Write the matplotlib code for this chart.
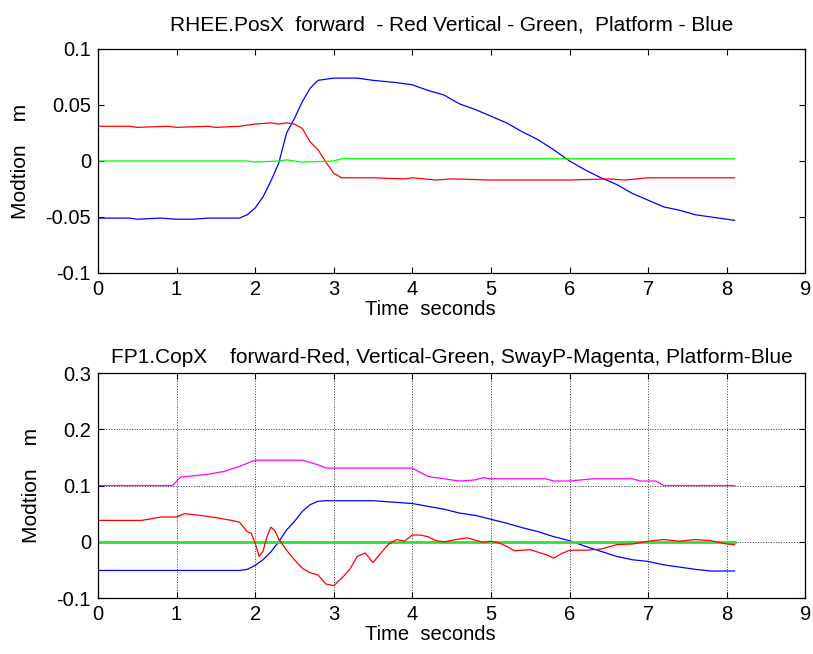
import matplotlib
matplotlib.use("Agg")
import matplotlib.pyplot as plt

plt.rcParams['font.family'] = ['Liberation Sans', 'DejaVu Sans']

# ---------------- top panel data ----------------
t1_blue = [0, 0.4, 0.5, 0.8, 1.0, 1.2, 1.4, 1.6, 1.8, 1.9, 2.0, 2.1, 2.2, 2.3, 2.4, 2.5, 2.6, 2.7, 2.8, 2.9, 3.0,
           3.3, 3.5, 3.8, 4.0, 4.2, 4.4, 4.6, 4.8, 5.0, 5.2, 5.4, 5.6, 5.8, 6.0, 6.2, 6.4, 6.6, 6.8, 7.0,
           7.2, 7.4, 7.6, 7.8, 8.0, 8.1]
y1_blue = [-0.051, -0.051, -0.052, -0.051, -0.052, -0.052, -0.051, -0.051, -0.051, -0.048, -0.042, -0.032, -0.018,
           -0.002, 0.025, 0.038, 0.053, 0.065, 0.072, 0.073, 0.074,
           0.074, 0.072, 0.070, 0.068, 0.063, 0.059, 0.051, 0.046, 0.040, 0.034, 0.026, 0.019, 0.010, 0.000,
           -0.008, -0.015, -0.021, -0.029, -0.035, -0.041, -0.044, -0.048, -0.050, -0.052, -0.053]

t1_red = [0, 0.4, 0.5, 0.9, 1.0, 1.4, 1.5, 1.8, 2.0, 2.2, 2.3, 2.4, 2.5, 2.6, 2.7, 2.8, 2.9, 3.0, 3.1, 3.5,
          3.9, 4.0, 4.3, 4.5, 5.0, 5.5, 6.0, 6.5, 6.7, 7.0, 7.5, 8.1]
y1_red = [0.031, 0.031, 0.030, 0.031, 0.030, 0.031, 0.030, 0.031, 0.033, 0.034, 0.033, 0.034, 0.033, 0.029, 0.017,
          0.010, -0.001, -0.011, -0.015, -0.015, -0.016, -0.015, -0.017, -0.016, -0.017, -0.017, -0.017, -0.016,
          -0.017, -0.015, -0.015, -0.015]

t1_green = [0, 1.9, 2.0, 2.3, 2.4, 2.6, 3.0, 3.1, 8.1]
y1_green = [0, 0, -0.001, 0.0, 0.001, -0.001, 0.0, 0.002, 0.002]

# ---------------- bottom panel data ----------------
t2_mag = [0, 0.95, 1.05, 1.2, 1.4, 1.6, 1.8, 2.0, 2.6, 2.8, 2.9, 3.0, 4.0, 4.2, 4.4, 4.6, 4.8, 4.9, 5.0, 5.7,
          5.8, 6.0, 6.3, 6.8, 6.9, 7.1, 7.2, 8.1]
y2_mag = [0.100, 0.100, 0.115, 0.117, 0.120, 0.125, 0.134, 0.145, 0.145, 0.137, 0.131, 0.131, 0.131, 0.116,
          0.112, 0.108, 0.110, 0.114, 0.112, 0.112, 0.108, 0.108, 0.112, 0.112, 0.108, 0.108, 0.100, 0.100]

t2_blue = [0, 1.8, 1.9, 2.0, 2.1, 2.2, 2.3, 2.4, 2.5, 2.6, 2.7, 2.8, 2.9, 3.5, 3.8, 4.0, 4.2, 4.4, 4.6, 4.8,
           5.0, 5.2, 5.4, 5.6, 5.8, 6.0, 6.2, 6.4, 6.6, 6.8, 7.0, 7.2, 7.4, 7.6, 7.8, 8.1]
y2_blue = [-0.051, -0.051, -0.049, -0.042, -0.032, -0.018, 0.000, 0.021, 0.036, 0.054, 0.066, 0.072, 0.073,
           0.073, 0.070, 0.068, 0.063, 0.058, 0.051, 0.047, 0.040, 0.033, 0.025, 0.018, 0.009, 0.002, -0.008,
           -0.017, -0.026, -0.032, -0.035, -0.041, -0.045, -0.049, -0.052, -0.052]

t2_red = [0, 0.55, 0.6, 0.8, 1.0, 1.1, 1.3, 1.5, 1.7, 1.8, 1.9, 1.95, 2.0, 2.05, 2.1, 2.15, 2.2, 2.25, 2.3,
          2.4, 2.5, 2.6, 2.7, 2.8, 2.9, 3.0, 3.1, 3.2, 3.3, 3.4, 3.5, 3.6, 3.7, 3.8, 3.9, 4.0, 4.1, 4.2, 4.3,
          4.4, 4.6, 4.7, 4.9, 5.0, 5.1, 5.2, 5.3, 5.5, 5.7, 5.8, 5.9, 6.0, 6.2, 6.4, 6.6, 6.8, 7.0, 7.2, 7.4,
          7.6, 7.8, 8.0, 8.1]
y2_red = [0.038, 0.038, 0.039, 0.044, 0.044, 0.050, 0.047, 0.043, 0.038, 0.035, 0.018, 0.015, -0.002, -0.026,
          -0.017, 0.009, 0.026, 0.020, 0.005, -0.015, -0.032, -0.047, -0.055, -0.059, -0.075, -0.078, -0.065,
          -0.050, -0.026, -0.020, -0.037, -0.020, -0.004, 0.004, 0.001, 0.012, 0.012, 0.009, 0.002, 0.000,
          0.005, 0.007, -0.001, 0.001, -0.002, -0.008, -0.016, -0.014, -0.023, -0.029, -0.021, -0.015, -0.015,
          -0.013, -0.005, -0.004, 0.001, 0.004, 0.001, 0.004, 0.002, -0.004, -0.005]

t2_green = [0, 8.1]
y2_green = [0, 0]

xticks = [0, 1, 2, 3, 4, 5, 6, 7, 8, 9]
yticks1 = [-0.1, -0.05, 0, 0.05, 0.1]
ylabels1 = ['-0.1', '-0.05', '0', '0.05', '0.1']
yticks2 = [-0.1, 0, 0.1, 0.2, 0.3]
ylabels2 = ['-0.1', '0', '0.1', '0.2', '0.3']

title1 = 'RHEE.PosX  forward  - Red Vertical - Green,  Platform - Blue'
title2 = 'FP1.CopX    forward-Red, Vertical-Green, SwayP-Magenta, Platform-Blue'
xlabel = 'Time  seconds'
ylabel = 'Modtion    m'

fig = plt.figure(figsize=(8.13, 6.54), dpi=100)
ax1 = fig.add_axes([0.1205, 0.5826, 0.8700, 0.3425])
ax2 = fig.add_axes([0.1205, 0.0856, 0.8700, 0.3440])

lw = 0.9
ax1.plot(t1_blue, y1_blue, color='#0000ff', lw=lw)
ax1.plot(t1_red, y1_red, color='#ff0000', lw=lw)
ax1.plot(t1_green, y1_green, color='#00ff00', lw=lw)

ax2.plot(t2_mag, y2_mag, color='#ff00ff', lw=lw)
ax2.plot(t2_blue, y2_blue, color='#0000ff', lw=lw)
ax2.plot(t2_green, y2_green, color='#33dd33', lw=2.0)
ax2.plot(t2_red, y2_red, color='#ff0000', lw=lw)

for ax, yt, yl, ylim, title, tpad in [(ax1, yticks1, ylabels1, (-0.1, 0.1), title1, 13),
                                      (ax2, yticks2, ylabels2, (-0.1, 0.3), title2, 7)]:
    ax.set_xlim(0, 9)
    ax.set_ylim(*ylim)
    ax.set_xticks(xticks)
    ax.set_xticklabels([str(v) for v in xticks])
    ax.set_yticks(yt)
    ax.set_yticklabels(yl)
    ax.tick_params(direction='in', top=True, right=True, length=4, width=0.8,
                   labelsize=14.5, pad=5, colors='black')
    for s in ax.spines.values():
        s.set_linewidth(0.9)
    ax.set_xlabel(xlabel, fontsize=14.5, labelpad=0)
    ax.xaxis.set_label_coords(0.47, -0.122)
    ax.xaxis.label.set_va('top')
    ax.set_ylabel(ylabel, fontsize=15, labelpad=11)
    ax.set_title(title, fontsize=15, pad=tpad)

ax2.grid(True, color='#333333', linestyle=':', linewidth=0.7)
ax2.set_axisbelow(True)

fig.savefig('out.png', dpi=100)
